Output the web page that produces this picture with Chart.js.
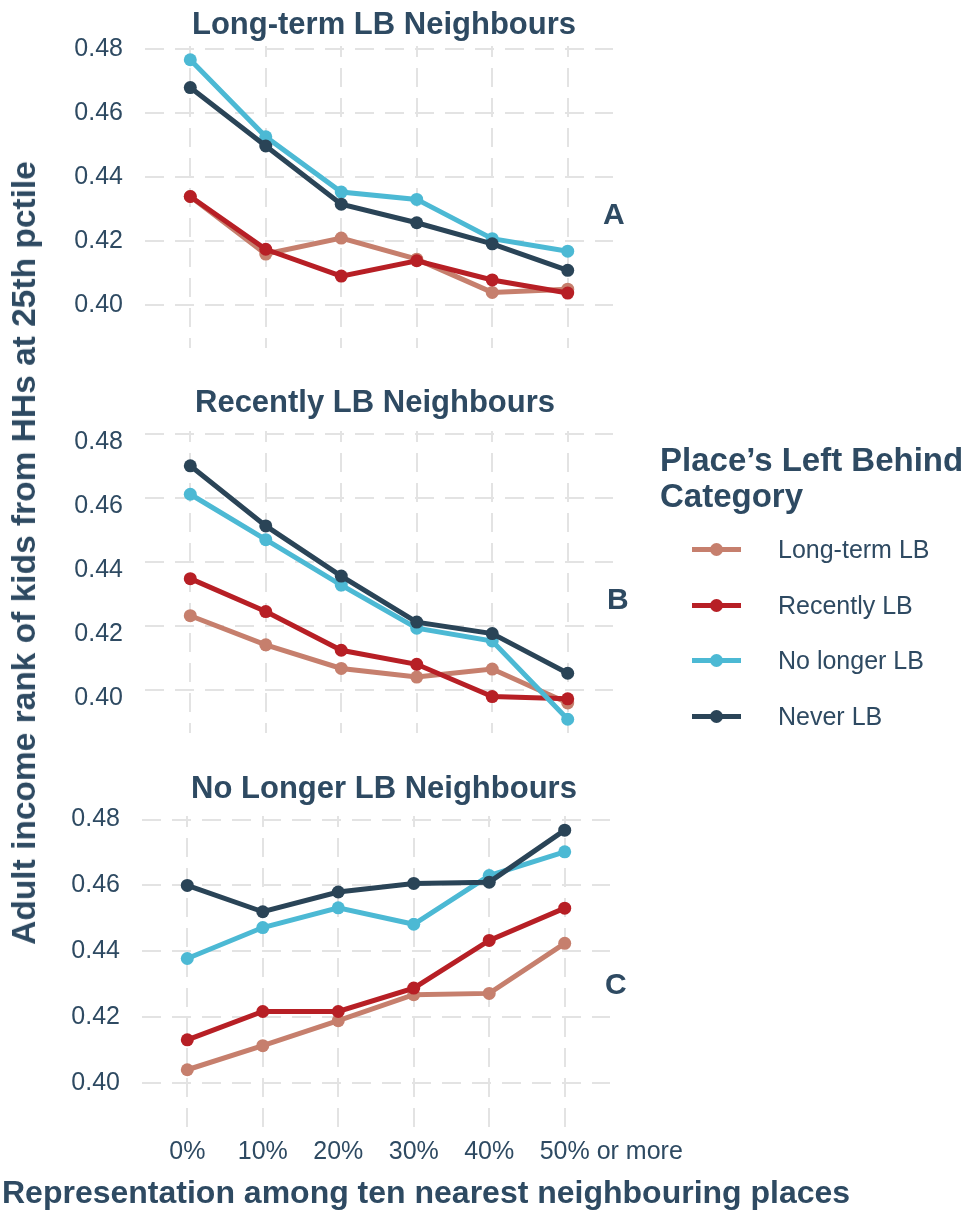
<!DOCTYPE html>
<html>
<head>
<meta charset="utf-8">
<script src="https://cdn.jsdelivr.net/npm/chart.js@4.4.1/dist/chart.umd.min.js"></script>
<style>
  html, body { margin: 0; padding: 0; background: #ffffff; }
  #page {
    position: relative; width: 978px; height: 1210px; overflow: hidden;
    font-family: "Liberation Sans", Arial, sans-serif; color: #2E4A62;
  }
  .panel { position: absolute; }
  .panel canvas { display: block; }
  #yTitle {
    position: absolute; left: 24px; top: 553px; white-space: nowrap;
    font-weight: bold; font-size: 33.5px; line-height: 34px;
    transform: translate(-50%, -50%) rotate(-90deg);
  }
  #xTitle {
    position: absolute; left: 2px; top: 1176px; white-space: nowrap;
    font-weight: bold; font-size: 32px; line-height: 32px;
  }
  #legendTitle {
    position: absolute; left: 660px; top: 442px; white-space: nowrap;
    font-weight: bold; font-size: 33px; line-height: 36px;
  }
  .lgItem { position: absolute; left: 692px; height: 24px; }
  .lgLine { position: absolute; left: 0; top: 9.5px; width: 49px; height: 5px; }
  .lgDot { position: absolute; left: 18px; top: 5.5px; width: 13px; height: 13px; border-radius: 50%; }
  .lgText { position: absolute; left: 86px; top: 0; font-size: 25px; line-height: 24px; white-space: nowrap; }
</style>
</head>
<body>
<div id="page">
  <div class="panel" id="panelA" style="left:0px;top:0px"><canvas id="chartA" width="720" height="385"></canvas></div>
  <div class="panel" id="panelB" style="left:0px;top:385px"><canvas id="chartB" width="720" height="385"></canvas></div>
  <div class="panel" id="panelC" style="left:-3px;top:770px"><canvas id="chartC" width="720" height="410"></canvas></div>
  <div id="yTitle">Adult income rank of kids from HHs at 25th pctile</div>
  <div id="xTitle">Representation among ten nearest neighbouring places</div>
  <div id="legendTitle">Place’s Left Behind<br>Category</div>
  <div id="legend"></div>
</div>
<script>
// Categories on the x axis and tick values on the y axis
const categories = ['0%', '10%', '20%', '30%', '40%', '50% or more'];
const yTicks = [0.40, 0.42, 0.44, 0.46, 0.48];

// Series (place's left-behind category) and their colours
const seriesNames = ['Long-term LB', 'Recently LB', 'No longer LB', 'Never LB'];
const seriesColors = ['#C67F6D', '#B71F25', '#4CB9D4', '#2A4457'];

// Panel A: Long-term LB neighbours
const longTermA = [0.4340, 0.4160, 0.4210, 0.4144, 0.4040, 0.4050];
const recentlyA = [0.4340, 0.4175, 0.4091, 0.4139, 0.4079, 0.4038];
const noLongerA = [0.4768, 0.4527, 0.4354, 0.4331, 0.4208, 0.4169];
const neverA    = [0.4681, 0.4498, 0.4316, 0.4258, 0.4192, 0.4109];

// Panel B: Recently LB neighbours
const longTermB = [0.4233, 0.4142, 0.4068, 0.4041, 0.4066, 0.3960];
const recentlyB = [0.4349, 0.4246, 0.4125, 0.4081, 0.3980, 0.3973];
const noLongerB = [0.4613, 0.4471, 0.4329, 0.4194, 0.4154, 0.3909];
const neverB    = [0.4702, 0.4514, 0.4357, 0.4213, 0.4177, 0.4053];

// Panel C: No longer LB neighbours
const longTermC = [0.4040, 0.4113, 0.4189, 0.4268, 0.4272, 0.4424];
const recentlyC = [0.4131, 0.4217, 0.4217, 0.4288, 0.4433, 0.4531];
const noLongerC = [0.4378, 0.4472, 0.4532, 0.4482, 0.4630, 0.4702];
const neverC    = [0.4600, 0.4520, 0.4580, 0.4606, 0.4610, 0.4768];

const panelTitles = ['Long-term LB Neighbours', 'Recently LB Neighbours', 'No Longer LB Neighbours'];
const panelTags = ['A', 'B', 'C'];

// Shared value range for the three panels (data range plus 5% on each side)
const allValues = [].concat(longTermA, recentlyA, noLongerA, neverA,
                            longTermB, recentlyB, noLongerB, neverB,
                            longTermC, recentlyC, noLongerC, neverC);
const vMin = Math.min(...allValues), vMax = Math.max(...allValues);
const vPad = (vMax - vMin) * 0.05;

const TEXT = '#2E4A62';
const GRID = '#E3E3E3';
const FONT = '"Liberation Sans", Arial, sans-serif';
const PLOT_RIGHT = 613;
Chart.defaults.font.family = FONT;
Chart.defaults.color = TEXT;

// Titles, right-hand panel letters and (bottom panel) x tick labels
const panelDecor = {
  id: 'panelDecor',
  afterDraw(chart, args, o) {
    const { ctx, chartArea, scales } = chart;
    ctx.save();
    ctx.fillStyle = TEXT;
    ctx.textBaseline = 'alphabetic';
    ctx.font = 'bold 31px ' + FONT;
    ctx.textAlign = 'center';
    ctx.fillText(o.title, o.titleX, o.titleBaseline);
    ctx.font = 'bold 30px ' + FONT;
    ctx.textAlign = 'left';
    ctx.fillText(o.tag, o.tagX, chartArea.top + 178);
    if (o.showX) {
      ctx.font = '25px ' + FONT;
      categories.forEach((lab, i) => {
        const px = scales.x.getPixelForValue(i);
        const lead = lab.split(' ')[0];
        const w = ctx.measureText(lead).width;
        ctx.fillText(lab, px - w / 2, chartArea.bottom + 32);
      });
    }
    ctx.restore();
  }
};

function makePanel(canvasId, series, opt) {
  const datasets = series.map((vals, k) => ({
    label: seriesNames[k],
    data: vals.map((v, i) => ({ x: i, y: v })),
    borderColor: seriesColors[k],
    backgroundColor: seriesColors[k],
    borderWidth: 5,
    pointRadius: 6.5,
    pointBorderWidth: 0,
    pointHoverRadius: 6.5,
    tension: 0,
    order: series.length - k
  }));
  const canvas = document.getElementById(canvasId);
  return new Chart(canvas, {
    type: 'line',
    data: { datasets },
    plugins: [panelDecor],
    options: {
      responsive: false,
      animation: false,
      events: [],
      layout: { padding: { left: 0, right: canvas.width - PLOT_RIGHT, top: 46, bottom: canvas.height - 357 } },
      plugins: {
        legend: { display: false },
        tooltip: { enabled: false },
        panelDecor: opt
      },
      scales: {
        x: {
          type: 'linear',
          min: -0.6, max: categories.length - 1 + 0.6,
          afterBuildTicks: s => { s.ticks = categories.map((_, i) => ({ value: i })); },
          afterFit: s => { s.height = 0; },
          ticks: { display: false },
          grid: { color: GRID, lineWidth: 2, drawTicks: false },
          border: { display: false, dash: [19, 11], dashOffset: 8 }
        },
        y: {
          type: 'linear',
          min: vMin - vPad, max: vMax + vPad,
          afterBuildTicks: s => { s.ticks = yTicks.map(v => ({ value: v })); },
          afterFit: s => { s.width = 145; },
          ticks: {
            font: { size: 25 },
            color: TEXT,
            padding: 22,
            labelOffset: opt.labelOffset || 0,
            callback: v => v.toFixed(2)
          },
          grid: { color: GRID, lineWidth: 2, drawTicks: false },
          border: { display: false, dash: [19, 11], dashOffset: 0 }
        }
      }
    }
  });
}

makePanel('chartA', [longTermA, recentlyA, noLongerA, neverA],
  { title: panelTitles[0], titleX: 384, titleBaseline: 34, tag: panelTags[0], tagX: 603 });
makePanel('chartB', [longTermB, recentlyB, noLongerB, neverB],
  { title: panelTitles[1], titleX: 375, titleBaseline: 27, tag: panelTags[1], tagX: 607, labelOffset: 8 });
makePanel('chartC', [longTermC, recentlyC, noLongerC, neverC],
  { title: panelTitles[2], titleX: 387, titleBaseline: 28, tag: panelTags[2], tagX: 608, showX: true });

// Legend
const legend = document.getElementById('legend');
const legendRows = [549, 605, 660, 716];
seriesNames.forEach((name, k) => {
  const item = document.createElement('div');
  item.className = 'lgItem';
  item.style.top = (legendRows[k] - 12) + 'px';
  item.innerHTML = '<div class="lgLine" style="background:' + seriesColors[k] + '"></div>' +
                   '<div class="lgDot" style="background:' + seriesColors[k] + '"></div>' +
                   '<div class="lgText">' + name + '</div>';
  legend.appendChild(item);
});
</script>
</body>
</html>
